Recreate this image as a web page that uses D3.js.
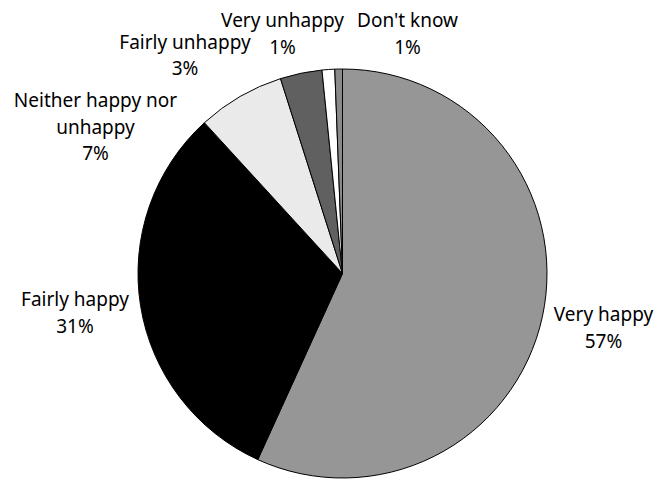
<!DOCTYPE html>
<html>
<head>
<meta charset="utf-8">
<script src="https://cdn.jsdelivr.net/npm/d3@7"></script>
<style>
  html, body { margin: 0; padding: 0; background: #fff; }
  svg { display: block; }
  .lbl { font-family: "Noto Sans", "DejaVu Sans", sans-serif; font-size: 19px; fill: #000; }
</style>
</head>
<body>
<svg id="chart" width="656" height="481"></svg>
<script>
// Survey answers, clockwise from 12 o'clock
const categories = ["Very happy", "Fairly happy", "Neither happy nor unhappy",
                    "Fairly unhappy", "Very unhappy", "Don't know"];
const shares = [56.8, 31.4, 6.9, 3.3, 1.0, 0.6];
const sliceColors = ["#969696", "#000000", "#eaeaea", "#606060", "#ffffff", "#8a8a8a"];

// Label anchors (centre x, first baseline y)
const labelAnchors = [[603.5, 321], [75, 306], [95.5, 107], [185, 48.5], [282.5, 27], [407.5, 27]];

const W = 656, H = 481;
const cx = 342.5, cy = 273.5, radius = 204.5;
const lineStep = 26.5;

const svg = d3.select("#chart");
const data = categories.map((c, i) => ({ name: c, value: shares[i], color: sliceColors[i], anchor: labelAnchors[i] }));

const pie = d3.pie().value(d => d.value).sort(null).startAngle(0).endAngle(2 * Math.PI);
const arc = d3.arc().innerRadius(0).outerRadius(radius);

const g = svg.append("g").attr("transform", `translate(${cx},${cy})`);
g.selectAll("path")
  .data(pie(data))
  .join("path")
  .attr("d", arc)
  .attr("fill", d => d.data.color)
  .attr("stroke", "#000")
  .attr("stroke-width", 1)
  .attr("stroke-linejoin", "round");

const pct = d3.format(".0f");

// Wrap a category name into lines no longer than maxChars
function wrap(name, maxChars) {
  const words = name.split(" ");
  const lines = [];
  let cur = "";
  words.forEach(w => {
    const t = cur ? cur + " " + w : w;
    if (t.length > maxChars && cur) { lines.push(cur); cur = w; }
    else cur = t;
  });
  if (cur) lines.push(cur);
  return lines;
}

data.forEach(d => {
  const lines = wrap(d.name, 18).concat([pct(d.value) + "%"]);
  const t = svg.append("text")
    .attr("class", "lbl")
    .attr("text-anchor", "middle");
  lines.forEach((ln, j) => {
    t.append("tspan")
      .attr("x", d.anchor[0])
      .attr("y", d.anchor[1] + j * lineStep)
      .text(ln);
  });
});
</script>
</body>
</html>
